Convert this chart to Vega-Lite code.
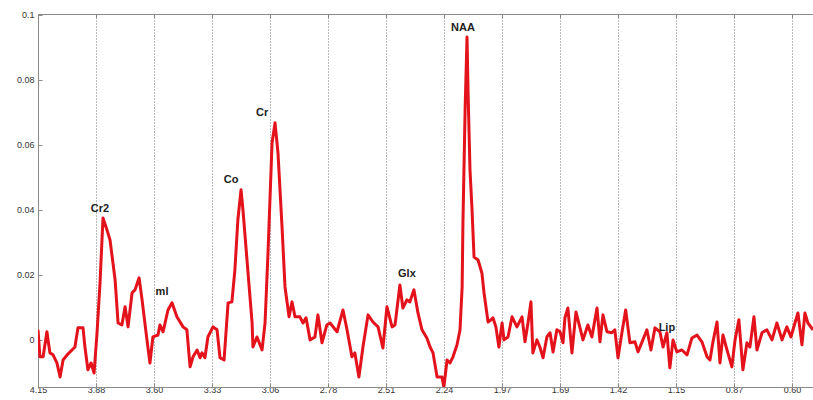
{
  "$schema": "https://vega.github.io/schema/vega-lite/v6.json",
  "autosize": {"type": "none"},
  "padding": {"left": 38, "top": 14, "right": 0, "bottom": 13},
  "width": 775,
  "height": 373,
  "background": "white",
  "config": {
    "view": {"stroke": "#8a8a8a", "strokeWidth": 1},
    "axis": {"labelFont": "Liberation Sans", "labelFontSize": 9, "labelColor": "#333", "domainColor": "#8a8a8a", "tickColor": "#8a8a8a", "title": null}
  },
  "datasets": {
    "spectrum": [
      {"ppm":4.150,"amp":0.0031},{"ppm":4.141,"amp":-0.0052},{"ppm":4.126,"amp":-0.0052},{"ppm":4.108,"amp":0.0025},
      {"ppm":4.094,"amp":-0.0040},{"ppm":4.079,"amp":-0.0046},{"ppm":4.061,"amp":-0.0071},{"ppm":4.046,"amp":-0.0114},
      {"ppm":4.032,"amp":-0.0062},{"ppm":4.013,"amp":-0.0046},{"ppm":3.990,"amp":-0.0031},{"ppm":3.976,"amp":-0.0022},
      {"ppm":3.962,"amp":0.0037},{"ppm":3.938,"amp":0.0037},{"ppm":3.929,"amp":-0.0022},{"ppm":3.915,"amp":-0.0092},
      {"ppm":3.900,"amp":-0.0071},{"ppm":3.886,"amp":-0.0102},{"ppm":3.872,"amp":0.0022},{"ppm":3.858,"amp":0.0175},
      {"ppm":3.844,"amp":0.0375},{"ppm":3.825,"amp":0.0338},{"ppm":3.811,"amp":0.0308},{"ppm":3.787,"amp":0.0185},
      {"ppm":3.773,"amp":0.0052},{"ppm":3.755,"amp":0.0046},{"ppm":3.740,"amp":0.0102},{"ppm":3.726,"amp":0.0040},
      {"ppm":3.707,"amp":0.0145},{"ppm":3.693,"amp":0.0154},{"ppm":3.674,"amp":0.0191},{"ppm":3.660,"amp":0.0123},
      {"ppm":3.637,"amp":0.0},{"ppm":3.623,"amp":-0.0071},{"ppm":3.609,"amp":0.0009},{"ppm":3.585,"amp":0.0015},
      {"ppm":3.576,"amp":0.0046},{"ppm":3.561,"amp":0.0025},{"ppm":3.538,"amp":0.0092},{"ppm":3.519,"amp":0.0114},
      {"ppm":3.496,"amp":0.0071},{"ppm":3.467,"amp":0.0040},{"ppm":3.449,"amp":0.0031},{"ppm":3.434,"amp":-0.0083},
      {"ppm":3.420,"amp":-0.0052},{"ppm":3.401,"amp":-0.0031},{"ppm":3.387,"amp":-0.0055},{"ppm":3.378,"amp":-0.0040},
      {"ppm":3.364,"amp":-0.0055},{"ppm":3.350,"amp":0.0009},{"ppm":3.326,"amp":0.0040},{"ppm":3.307,"amp":0.0031},
      {"ppm":3.293,"amp":-0.0055},{"ppm":3.274,"amp":-0.0062},{"ppm":3.255,"amp":0.0114},{"ppm":3.237,"amp":0.0117},
      {"ppm":3.223,"amp":0.0215},{"ppm":3.209,"amp":0.0369},{"ppm":3.194,"amp":0.0462},{"ppm":3.185,"amp":0.0400},
      {"ppm":3.166,"amp":0.0246},{"ppm":3.142,"amp":0.0052},{"ppm":3.138,"amp":-0.0022},{"ppm":3.119,"amp":0.0009},
      {"ppm":3.095,"amp":-0.0031},{"ppm":3.081,"amp":0.0052},{"ppm":3.067,"amp":0.0268},{"ppm":3.048,"amp":0.0606},
      {"ppm":3.034,"amp":0.0668},{"ppm":3.020,"amp":0.0575},{"ppm":3.001,"amp":0.0348},{"ppm":2.987,"amp":0.0163},
      {"ppm":2.968,"amp":0.0071},{"ppm":2.954,"amp":0.0117},{"ppm":2.940,"amp":0.0071},{"ppm":2.917,"amp":0.0071},
      {"ppm":2.902,"amp":0.0052},{"ppm":2.888,"amp":0.0068},{"ppm":2.869,"amp":0.0},{"ppm":2.846,"amp":0.0009},
      {"ppm":2.832,"amp":0.0077},{"ppm":2.813,"amp":-0.0009},{"ppm":2.790,"amp":0.0046},{"ppm":2.775,"amp":0.0052},
      {"ppm":2.742,"amp":0.0025},{"ppm":2.714,"amp":0.0092},{"ppm":2.695,"amp":0.0031},{"ppm":2.672,"amp":-0.0052},
      {"ppm":2.658,"amp":-0.0040},{"ppm":2.639,"amp":-0.0114},{"ppm":2.620,"amp":-0.0022},{"ppm":2.596,"amp":0.0077},
      {"ppm":2.573,"amp":0.0055},{"ppm":2.549,"amp":0.0040},{"ppm":2.526,"amp":-0.0025},{"ppm":2.507,"amp":0.0102},
      {"ppm":2.483,"amp":0.0040},{"ppm":2.469,"amp":0.0046},{"ppm":2.446,"amp":0.0169},{"ppm":2.432,"amp":0.0098},
      {"ppm":2.413,"amp":0.0123},{"ppm":2.399,"amp":0.0117},{"ppm":2.380,"amp":0.0154},{"ppm":2.361,"amp":0.0083},
      {"ppm":2.342,"amp":0.0031},{"ppm":2.319,"amp":0.0006},{"ppm":2.304,"amp":-0.0022},{"ppm":2.290,"amp":-0.0040},
      {"ppm":2.271,"amp":-0.0114},{"ppm":2.248,"amp":-0.0114},{"ppm":2.239,"amp":-0.0145},{"ppm":2.224,"amp":-0.0062},
      {"ppm":2.210,"amp":-0.0071},{"ppm":2.196,"amp":-0.0052},{"ppm":2.177,"amp":-0.0015},{"ppm":2.163,"amp":0.0031},
      {"ppm":2.153,"amp":0.0163},{"ppm":2.149,"amp":0.0369},{"ppm":2.139,"amp":0.0708},{"ppm":2.130,"amp":0.0932},
      {"ppm":2.125,"amp":0.0760},{"ppm":2.116,"amp":0.0523},{"ppm":2.107,"amp":0.0409},{"ppm":2.097,"amp":0.0255},
      {"ppm":2.078,"amp":0.0246},{"ppm":2.060,"amp":0.0206},{"ppm":2.050,"amp":0.0145},{"ppm":2.031,"amp":0.0055},
      {"ppm":2.017,"amp":0.0062},{"ppm":2.008,"amp":0.0068},{"ppm":1.994,"amp":0.0040},{"ppm":1.980,"amp":-0.0022},
      {"ppm":1.965,"amp":0.0052},{"ppm":1.956,"amp":0.0},{"ppm":1.937,"amp":0.0009},{"ppm":1.918,"amp":0.0071},
      {"ppm":1.895,"amp":0.0040},{"ppm":1.871,"amp":0.0071},{"ppm":1.857,"amp":-0.0006},{"ppm":1.843,"amp":0.0052},
      {"ppm":1.829,"amp":0.0117},{"ppm":1.820,"amp":-0.0040},{"ppm":1.801,"amp":0.0},{"ppm":1.787,"amp":-0.0022},
      {"ppm":1.772,"amp":-0.0055},{"ppm":1.754,"amp":0.0009},{"ppm":1.739,"amp":0.0022},{"ppm":1.725,"amp":-0.0037},
      {"ppm":1.707,"amp":0.0031},{"ppm":1.692,"amp":0.0025},{"ppm":1.678,"amp":-0.0009},{"ppm":1.669,"amp":0.0068},
      {"ppm":1.655,"amp":0.0098},{"ppm":1.636,"amp":-0.0040},{"ppm":1.617,"amp":0.0086},{"ppm":1.598,"amp":0.0037},
      {"ppm":1.584,"amp":0.0},{"ppm":1.561,"amp":0.0046},{"ppm":1.542,"amp":0.0009},{"ppm":1.518,"amp":0.0098},
      {"ppm":1.504,"amp":-0.0006},{"ppm":1.490,"amp":0.0077},{"ppm":1.471,"amp":0.0025},{"ppm":1.448,"amp":0.0022},
      {"ppm":1.434,"amp":0.0031},{"ppm":1.419,"amp":-0.0055},{"ppm":1.400,"amp":0.0025},{"ppm":1.383,"amp":0.0092},
      {"ppm":1.363,"amp":-0.0009},{"ppm":1.339,"amp":-0.0006},{"ppm":1.325,"amp":-0.0037},{"ppm":1.302,"amp":0.0},
      {"ppm":1.283,"amp":0.0031},{"ppm":1.264,"amp":-0.0031},{"ppm":1.245,"amp":0.0037},{"ppm":1.222,"amp":0.0025},
      {"ppm":1.207,"amp":-0.0022},{"ppm":1.189,"amp":0.0022},{"ppm":1.175,"amp":-0.0086},{"ppm":1.160,"amp":0.0},
      {"ppm":1.142,"amp":-0.0037},{"ppm":1.118,"amp":-0.0031},{"ppm":1.094,"amp":-0.0046},{"ppm":1.071,"amp":0.0006},
      {"ppm":1.047,"amp":0.0015},{"ppm":1.024,"amp":-0.0006},{"ppm":1.000,"amp":-0.0052},{"ppm":0.986,"amp":-0.0062},
      {"ppm":0.972,"amp":-0.0006},{"ppm":0.953,"amp":0.0055},{"ppm":0.939,"amp":-0.0071},{"ppm":0.925,"amp":0.0015},
      {"ppm":0.906,"amp":-0.0031},{"ppm":0.883,"amp":-0.0083},{"ppm":0.868,"amp":0.0},{"ppm":0.850,"amp":0.0062},
      {"ppm":0.831,"amp":-0.0092},{"ppm":0.812,"amp":-0.0009},{"ppm":0.798,"amp":-0.0022},{"ppm":0.779,"amp":0.0071},
      {"ppm":0.765,"amp":-0.0031},{"ppm":0.741,"amp":0.0022},{"ppm":0.718,"amp":0.0031},{"ppm":0.694,"amp":0.0},
      {"ppm":0.671,"amp":0.0052},{"ppm":0.647,"amp":0.0},{"ppm":0.624,"amp":0.0040},{"ppm":0.605,"amp":0.0009},
      {"ppm":0.586,"amp":0.0052},{"ppm":0.572,"amp":0.0083},{"ppm":0.553,"amp":-0.0015},{"ppm":0.539,"amp":0.0083},
      {"ppm":0.525,"amp":0.0052},{"ppm":0.501,"amp":0.0031}
    ],
    "labels": [
      {"ppm":3.858,"amp":0.0403,"name":"Cr2"},
      {"ppm":3.566,"amp":0.0148,"name":"ml"},
      {"ppm":3.241,"amp":0.0492,"name":"Co"},
      {"ppm":3.095,"amp":0.0698,"name":"Cr"},
      {"ppm":2.413,"amp":0.0203,"name":"Glx"},
      {"ppm":2.149,"amp":0.0960,"name":"NAA"},
      {"ppm":1.189,"amp":0.0037,"name":"Lip"}
    ]
  },
  "resolve": {"axis": {"x": "independent"}},
  "layer": [
    {
      "data": {"name": "spectrum"},
      "mark": {"type": "line", "color": "#e3121b", "strokeWidth": 3, "strokeJoin": "round", "interpolate": "linear", "clip": true},
      "encoding": {
        "x": {
          "field": "ppm", "type": "quantitative",
          "scale": {"domain": [0.501, 4.15], "reverse": true, "nice": false, "zero": false},
          "axis": {
            "orient": "bottom",
            "values": [4.15, 3.8769, 3.6038, 3.3308, 3.0577, 2.7846, 2.5115, 2.2385, 1.9654, 1.6923, 1.4192, 1.1462, 0.8731, 0.60],
            "format": ".2f",
            "grid": true, "gridColor": "#777", "gridDash": [1, 2], "gridWidth": 1,
            "tickSize": -4, "labelPadding": 2, "domain": true, "labelFlush": false
          }
        },
        "y": {
          "field": "amp", "type": "quantitative",
          "scale": {"domain": [-0.0145, 0.1003], "nice": false, "zero": false},
          "axis": {
            "values": [0, 0.02, 0.04, 0.06, 0.08, 0.1],
            "format": "~g", "grid": false, "tickSize": -4, "labelPadding": 8
          }
        }
      }
    },
    {
      "data": {"name": "labels"},
      "mark": {"type": "text", "font": "Liberation Sans", "fontSize": 11, "fontWeight": "bold", "color": "#222", "align": "center", "baseline": "middle"},
      "encoding": {
        "x": {
          "field": "ppm", "type": "quantitative",
          "axis": {
            "orient": "top", "labels": false, "grid": false, "domain": false,
            "values": [4.15, 3.8769, 3.6038, 3.3308, 3.0577, 2.7846, 2.5115, 2.2385, 1.9654, 1.6923, 1.4192, 1.1462, 0.8731, 0.60],
            "tickSize": -4
          }
        },
        "y": {"field": "amp", "type": "quantitative"},
        "text": {"field": "name", "type": "nominal"}
      }
    }
  ]
}
